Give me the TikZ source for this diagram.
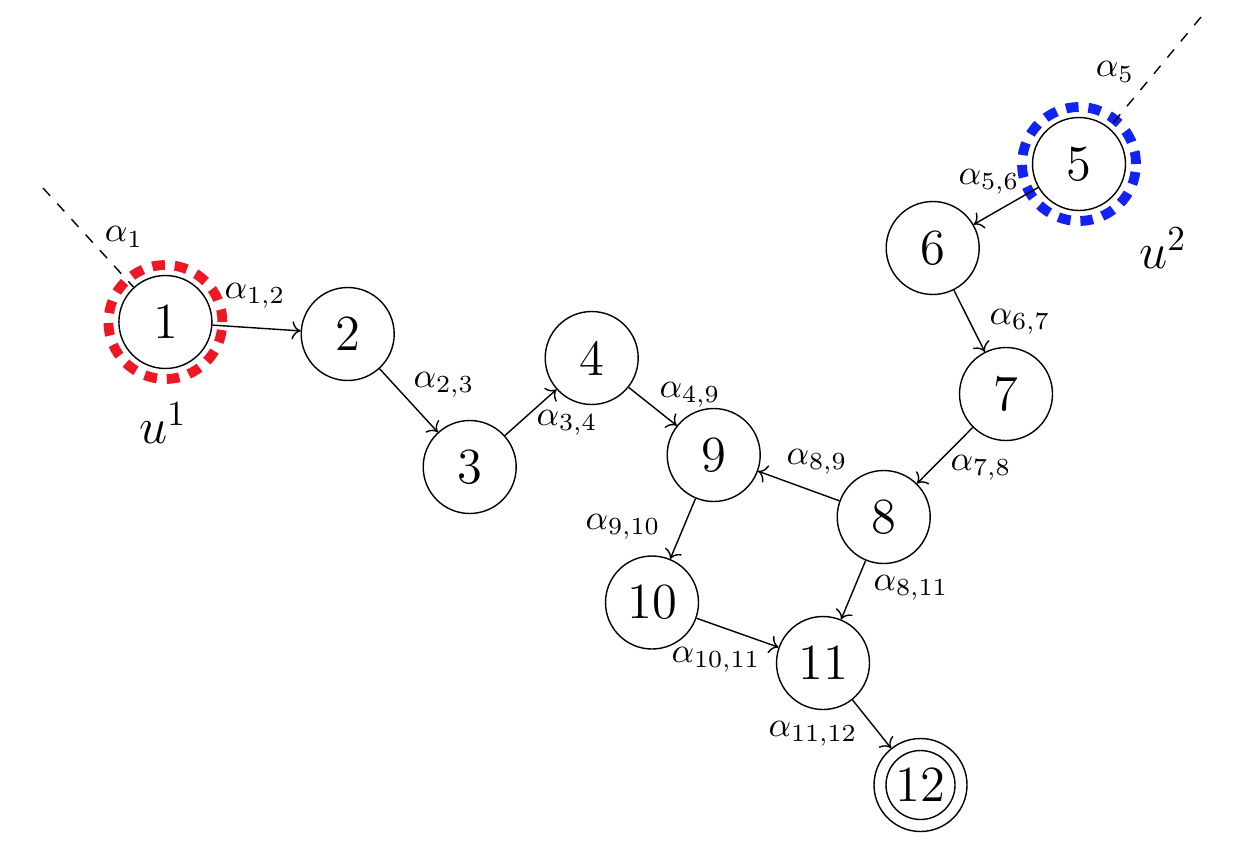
\documentclass[tikz,border=0pt]{standalone}
\usetikzlibrary{arrows.meta}
\definecolor{ringred}{RGB}{237,24,36}
\definecolor{ringblue}{RGB}{18,34,240}
\begin{document}
\begin{tikzpicture}[
  state/.style={draw,circle,minimum size=0.93cm,inner sep=0pt,font=\Large},
  lab/.style={inner sep=0pt},
  edge/.style={->},
  loose/.style={dashed},
  ring/.style={line width=2.8pt,dash pattern=on 3.6pt off 2.8pt}
]
\useasboundingbox (0,0) rectangle (12.42,8.48);
% rings
\draw[ring,ringred] (1.654,5.26) circle (0.57cm);
\draw[ring,ringblue] (10.79,6.84) circle (0.57cm);
% nodes
\node[state] (n1) at (1.654,5.26) {1};
\node[state] (n2) at (3.477,5.14) {2};
\node[state] (n3) at (4.697,3.81) {3};
\node[state] (n4) at (5.917,4.90) {4};
\node[state] (n5) at (10.79,6.84) {5};
\node[state] (n6) at (9.327,6.00) {6};
\node[state] (n7) at (10.06,4.54) {7};
\node[state] (n8) at (8.837,3.31) {8};
\node[state] (n9) at (7.137,3.93) {9};
\node[state] (n10) at (6.52,2.455) {10};
\node[state] (n11) at (8.23,1.85) {11};
\node[state] (n12) at (9.205,0.63) {12};
\draw (n12.center) circle (0.345cm);
% loose ends
\coordinate (c1) at (0.43,6.60);
\coordinate (c5) at (12.01,8.31);
\draw[loose] (c1) -- (n1);
\draw[loose] (c5) -- (n5);
% edges
\draw[edge] (n1) -- (n2);
\draw[edge] (n2) -- (n3);
\draw[edge] (n3) -- (n4);
\draw[edge] (n4) -- (n9);
\draw[edge] (n5) -- (n6);
\draw[edge] (n6) -- (n7);
\draw[edge] (n7) -- (n8);
\draw[edge] (n8) -- (n9);
\draw[edge] (n9) -- (n10);
\draw[edge] (n8) -- (n11);
\draw[edge] (n10) -- (n11);
\draw[edge] (n11) -- (n12);
% labels
\node[lab] (a1) at (1.24,6.11) {$\alpha_1$};
\node[lab] (a5) at (11.15,7.76) {$\alpha_5$};
\node[lab,font=\Large] (u1) at (1.63,4.25) {$u^1$};
\node[lab,font=\Large] (u2) at (11.63,6.00) {$u^2$};
\node[lab] (a12) at (2.55,5.52) {$\alpha_{1,2}$};
\node[lab] (a23) at (4.44,4.63) {$\alpha_{2,3}$};
\node[lab] (a34) at (5.67,4.25) {$\alpha_{3,4}$};
\node[lab] (a49) at (6.90,4.53) {$\alpha_{4,9}$};
\node[lab] (a56) at (9.89,6.66) {$\alpha_{5,6}$};
\node[lab] (a67) at (10.20,5.26) {$\alpha_{6,7}$};
\node[lab] (a78) at (9.81,3.80) {$\alpha_{7,8}$};
\node[lab] (a89) at (8.17,3.86) {$\alpha_{8,9}$};
\node[lab] (a910) at (6.23,3.21) {$\alpha_{9,10}$};
\node[lab] (a811) at (9.11,2.60) {$\alpha_{8,11}$};
\node[lab] (a1011) at (7.16,1.88) {$\alpha_{10,11}$};
\node[lab] (a1112) at (8.13,1.14) {$\alpha_{11,12}$};
\end{tikzpicture}
\end{document}
